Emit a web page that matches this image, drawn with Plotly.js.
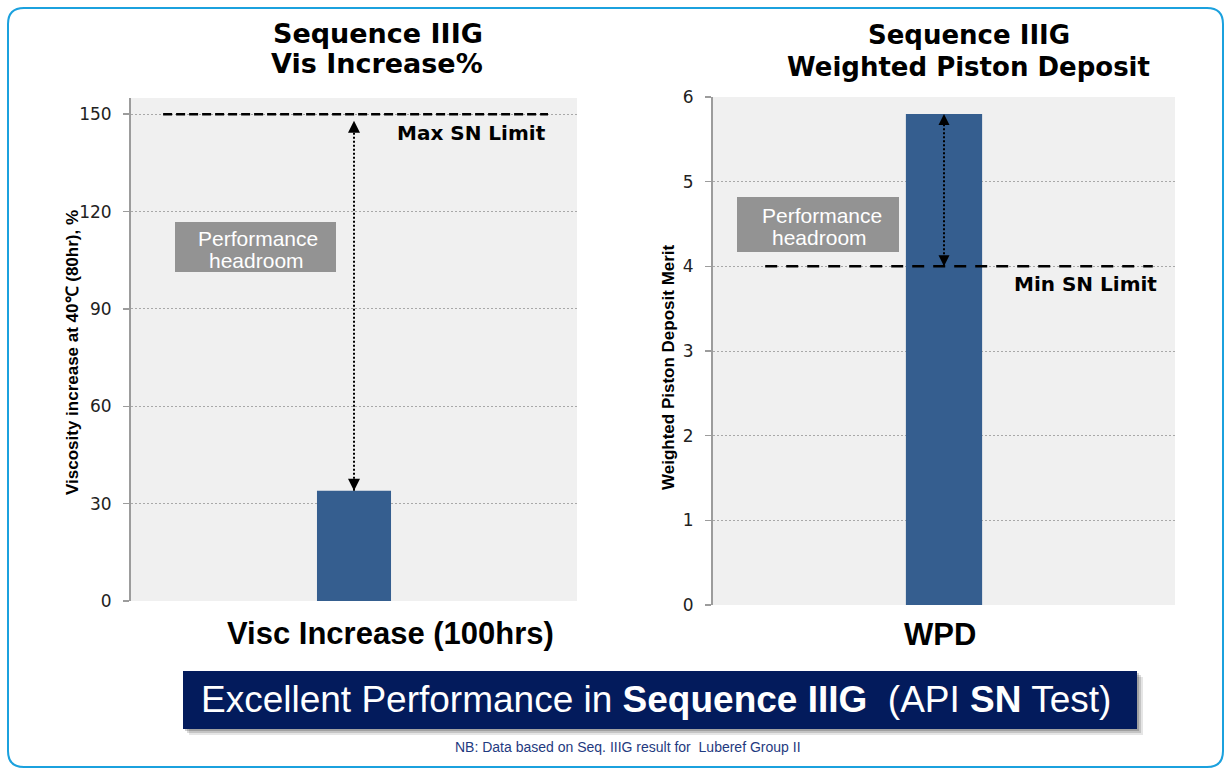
<!DOCTYPE html>
<html>
<head>
<meta charset="utf-8">
<script src="https://cdn.plot.ly/plotly-3.0.1.min.js"></script>
<style>
  html, body { margin: 0; padding: 0; background: #ffffff; }
  #chart { width: 1224px; height: 769px; }
</style>
</head>
<body>
<div id="chart"></div>
<script>
// Sequence IIIG results: viscosity increase (left) and weighted piston deposit (right)
const viscCategories = ['Visc Increase (100hrs)'];
const viscIncrease = [34];
const viscMaxLimit = 150;
const viscTicks = [0, 30, 60, 90, 120, 150];

const wpdCategories = ['WPD'];
const wpdMerit = [5.8];
const wpdMinLimit = 4;
const wpdTicks = [0, 1, 2, 3, 4, 5, 6];

const W = 1224, H = 769;
const px = x => x / W;           // pixel column -> paper x
const py = y => 1 - y / H;       // pixel row -> paper y

const barColor = '#355E8F';
const gridColor = '#A8A8A8';
const axisColor = '#9C9C9C';

const traces = [
  {
    type: 'bar', x: viscCategories, y: viscIncrease,
    xaxis: 'x', yaxis: 'y', width: 0.166,
    marker: { color: barColor }, hoverinfo: 'skip'
  },
  {
    type: 'bar', x: wpdCategories, y: wpdMerit,
    xaxis: 'x2', yaxis: 'y2', width: 0.165,
    marker: { color: barColor }, hoverinfo: 'skip'
  },
  // headroom arrows (dotted shaft with heads at both ends)
  {
    type: 'scatter', mode: 'lines+markers',
    x: [viscCategories[0], viscCategories[0]],
    y: [viscIncrease[0], viscMaxLimit - 2],
    xaxis: 'x', yaxis: 'y',
    line: { color: '#000', width: 2, dash: '2px,2px' },
    marker: { symbol: ['arrow-down', 'arrow-up'], size: 12, color: '#000' },
    hoverinfo: 'skip'
  },
  {
    type: 'scatter', mode: 'lines+markers',
    x: [wpdCategories[0], wpdCategories[0]],
    y: [wpdMinLimit, wpdMerit[0]],
    xaxis: 'x2', yaxis: 'y2',
    line: { color: '#000', width: 2, dash: '2px,2px' },
    marker: { symbol: ['arrow-down', 'arrow-up'], size: 11, color: '#000' },
    hoverinfo: 'skip'
  }
];

const tickFont = { family: 'DejaVu Sans, Verdana, sans-serif', size: 17, color: '#222' };

function yAxis(range, ticks, domain) {
  return {
    domain: domain, range: range, tickmode: 'array', tickvals: ticks,
    showgrid: true, gridcolor: gridColor, gridwidth: 1, griddash: '2px,2px',
    zeroline: false, showline: true, linecolor: axisColor, linewidth: 2,
    ticks: 'outside', ticklen: 6, tickcolor: axisColor, tickwidth: 1.5,
    ticklabelstandoff: 8, tickfont: tickFont, fixedrange: true
  };
}
function xAxis(domain, anchor) {
  return {
    domain: domain, anchor: anchor, range: [-0.5, 0.5], type: 'category',
    showticklabels: false, showgrid: false, zeroline: false, showline: false,
    ticks: '', fixedrange: true
  };
}

const heavy = { family: 'DejaVu Sans, Arial Black, sans-serif', weight: 'bold', color: '#000' };
const shapes = [];
const annotations = [];

// centred text placed at a pixel position
function label(x, y, text, font, extra) {
  return Object.assign({ xref: 'paper', yref: 'paper', x: px(x), y: py(y),
    xanchor: 'center', yanchor: 'middle', text: text, showarrow: false, font: font }, extra || {});
}

// outer rounded frame
(function () {
  const l = 8, t = 8, r = 1223, b = 767, k = 16;
  const p = [
    'M', px(l + k), py(t), 'L', px(r - k), py(t),
    'Q', px(r), py(t), px(r), py(t + k),
    'L', px(r), py(b - k),
    'Q', px(r), py(b), px(r - k), py(b),
    'L', px(l + k), py(b),
    'Q', px(l), py(b), px(l), py(b - k),
    'L', px(l), py(t + k),
    'Q', px(l), py(t), px(l + k), py(t), 'Z'
  ].join(' ');
  shapes.push({ type: 'path', xref: 'paper', yref: 'paper', path: p,
    line: { color: '#1BA1DE', width: 2 }, fillcolor: 'rgba(0,0,0,0)', layer: 'below' });
})();

// limit lines
shapes.push({ type: 'line', xref: 'x', yref: 'y', x0: -0.428, x1: 0.435,
  y0: viscMaxLimit, y1: viscMaxLimit, line: { color: '#000', width: 2.5, dash: '9px,4px' } });
shapes.push({ type: 'line', xref: 'x2', yref: 'y2', x0: -0.387, x1: 0.452,
  y0: wpdMinLimit, y1: wpdMinLimit, line: { color: '#000', width: 2.5, dash: '12px,9px' } });

// headroom callout boxes
shapes.push({ type: 'rect', xref: 'paper', yref: 'paper',
  x0: px(175), x1: px(336), y0: py(272), y1: py(222), fillcolor: '#939393', line: { width: 0 } });
shapes.push({ type: 'rect', xref: 'paper', yref: 'paper',
  x0: px(737), x1: px(899), y0: py(252), y1: py(197), fillcolor: '#939393', line: { width: 0 } });

// bottom banner with soft shadow
[[6, 0.10], [4, 0.14], [2, 0.18]].forEach(([o, a]) => {
  shapes.push({ type: 'rect', xref: 'paper', yref: 'paper',
    x0: px(183 + o), x1: px(1137 + o), y0: py(729 + o), y1: py(671 + o),
    fillcolor: 'rgba(0,0,0,' + a + ')', line: { width: 0 } });
});
shapes.push({ type: 'rect', xref: 'paper', yref: 'paper',
  x0: px(183), x1: px(1137), y0: py(729), y1: py(671),
  fillcolor: '#031B5C', line: { width: 0 } });

// chart titles
const titleFont = Object.assign({ size: 26 }, heavy);
annotations.push(
  label(378, 33, 'Sequence IIIG', Object.assign({}, titleFont, { size: 27 })),
  label(377, 63, 'Vis Increase%', Object.assign({}, titleFont, { size: 27 })),
  label(969, 35, 'Sequence IIIG', titleFont),
  label(968, 67, 'Weighted Piston Deposit', titleFont)
);

// value-axis titles
const axTitleFont = { family: 'Liberation Sans Narrow, Arial Narrow, Liberation Sans, sans-serif',
  size: 17, weight: 'bold', color: '#000' };
annotations.push(
  label(72, 353, 'Viscosity increase at 40\u2103 (80hr), %', axTitleFont, { textangle: -90 }),
  label(668, 367, 'Weighted Piston Deposit Merit', axTitleFont, { textangle: -90 })
);

// category labels
const catFont = { family: 'Liberation Sans, Arial, sans-serif', size: 31, weight: 'bold', color: '#000' };
annotations.push(
  label(391, 633, viscCategories[0], catFont),
  label(940, 634, wpdCategories[0], catFont)
);

// limit labels
const limitFont = Object.assign({ size: 20 }, heavy);
annotations.push(
  { xref: 'x', yref: 'y', x: 0.435, y: viscMaxLimit, yshift: -19, xanchor: 'right', yanchor: 'middle',
    text: 'Max SN Limit', showarrow: false, font: limitFont },
  { xref: 'x2', yref: 'y2', x: 0.465, y: wpdMinLimit, yshift: -18, xanchor: 'right', yanchor: 'middle',
    text: 'Min SN Limit', showarrow: false, font: limitFont }
);

// headroom callout text
const boxFont = { family: 'Liberation Sans, Arial, sans-serif', size: 21, color: '#ffffff' };
annotations.push(
  label(258, 238, 'Performance', boxFont),
  label(256, 260, 'headroom', boxFont),
  label(822, 215, 'Performance', boxFont),
  label(820, 237, 'headroom', boxFont)
);

// banner text and footnote
annotations.push(
  label(656, 699, 'Excellent Performance in <b>Sequence IIIG</b>  (API <b>SN</b> Test)',
    { family: 'Liberation Sans, Arial, sans-serif', size: 37, color: '#ffffff' }),
  label(628, 747, 'NB: Data based on Seq. IIIG result for  Luberef Group II',
    { family: 'Liberation Sans, Arial, sans-serif', size: 14, color: '#1F3A80' })
);

const layout = {
  width: W, height: H, autosize: false,
  margin: { l: 0, r: 0, t: 0, b: 0, pad: 0 },
  paper_bgcolor: '#ffffff', plot_bgcolor: '#F0F0F0',
  showlegend: false,
  xaxis: xAxis([px(131), px(577)], 'y'),
  yaxis: yAxis([0, 155], viscTicks, [py(601), py(98)]),
  xaxis2: xAxis([px(713), px(1175)], 'y2'),
  yaxis2: Object.assign(yAxis([0, 6], wpdTicks, [py(605), py(97)]), { anchor: 'x2' }),
  shapes: shapes,
  annotations: annotations
};
layout.yaxis.anchor = 'x';

Plotly.newPlot('chart', traces, layout, { staticPlot: true, displayModeBar: false });
</script>
</body>
</html>
